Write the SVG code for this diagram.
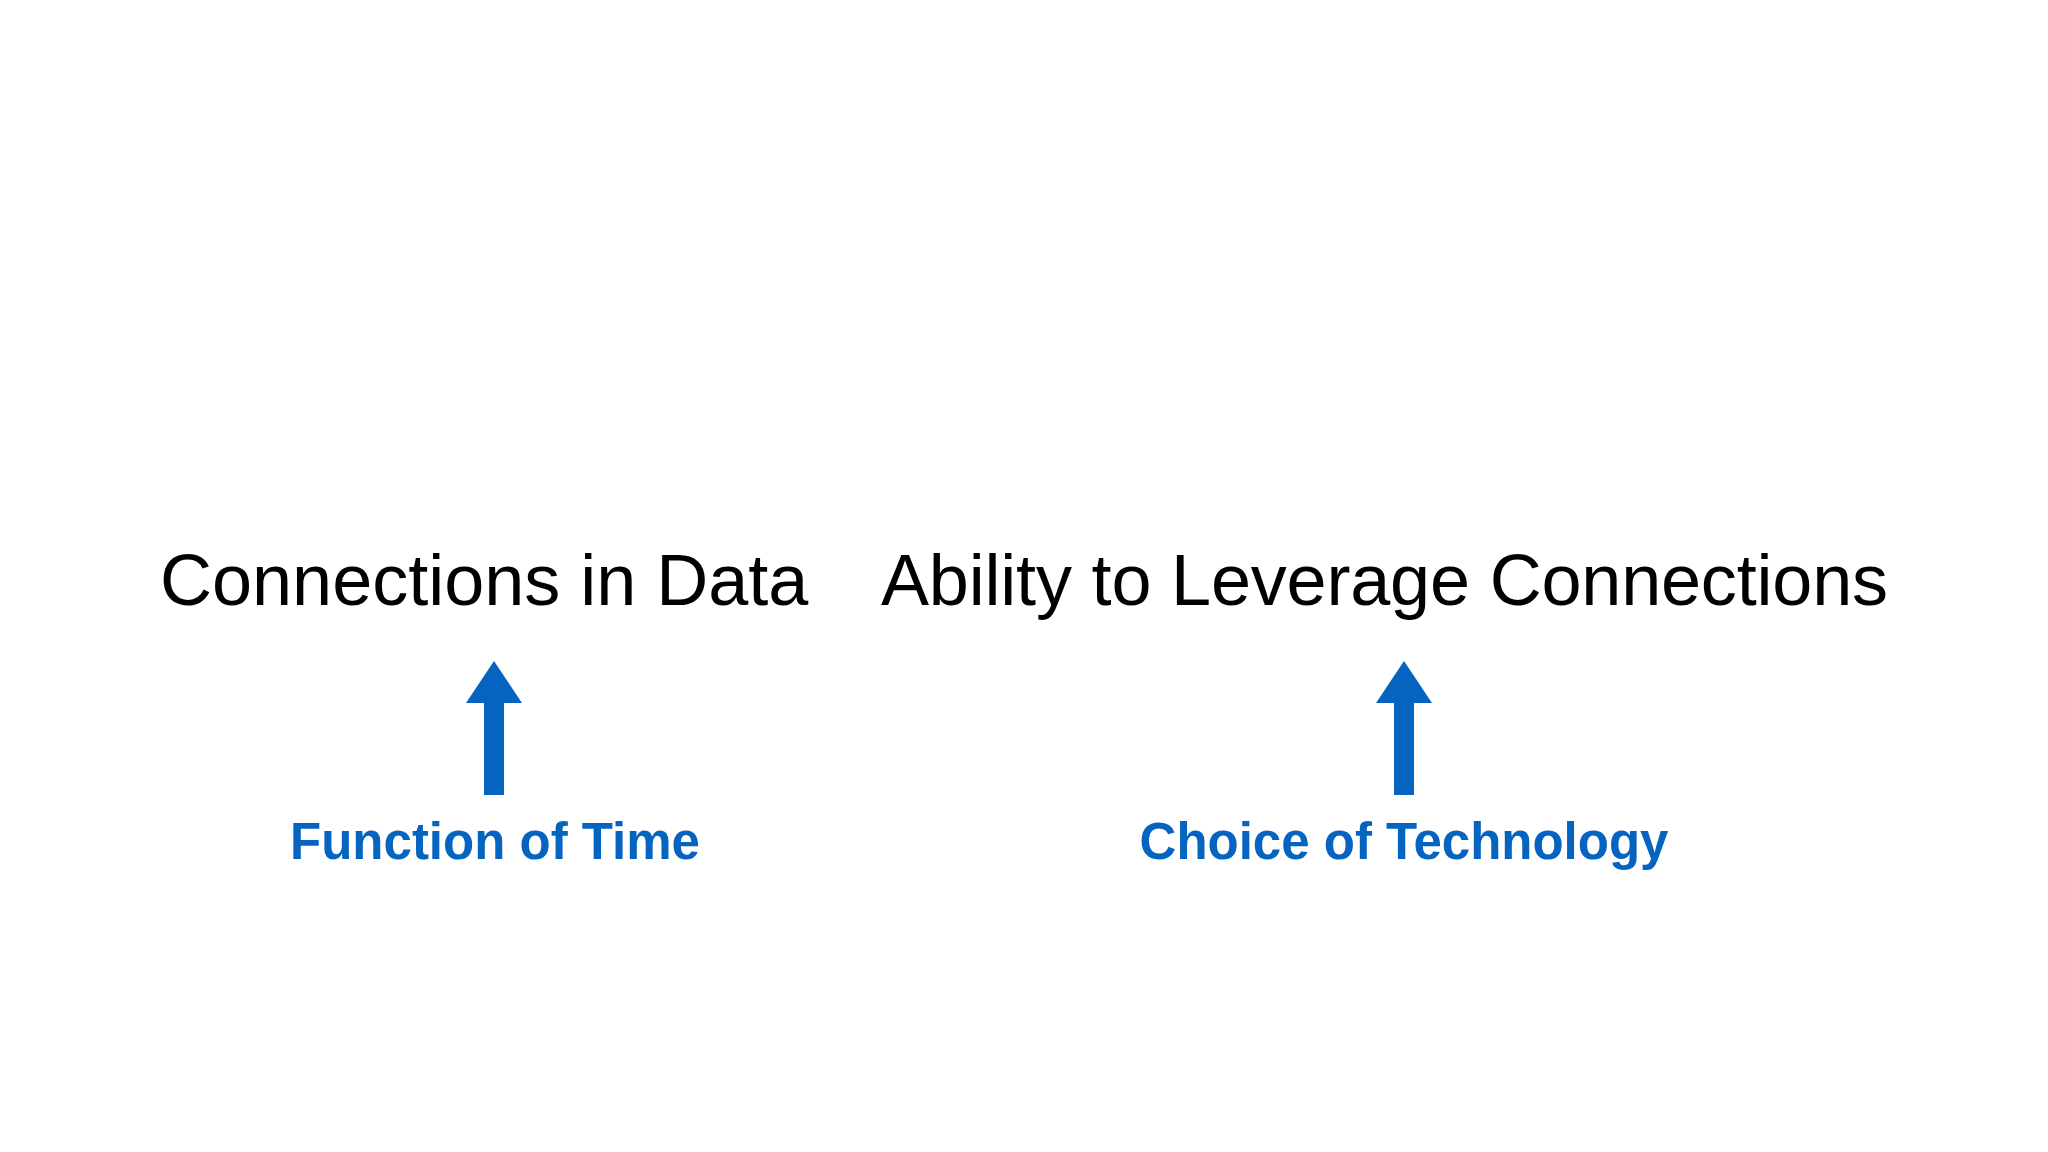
<svg xmlns="http://www.w3.org/2000/svg" width="2048" height="1152" viewBox="0 0 2048 1152">
  <style>
    .main { font-family: "Liberation Sans", Arial, Helvetica, sans-serif; font-size: 72px; fill: #000000; }
    .label { font-family: "Liberation Sans", Arial, Helvetica, sans-serif; font-size: 51px; font-weight: bold; fill: #0564C0; text-anchor: middle; }
    .arrow { fill: #0564C0; }
  </style>
  <defs>
    <path id="uparrow" d="M 0 0 L 28 42 L 10 42 L 10 134 L -10 134 L -10 42 L -28 42 Z"/>
  </defs>
  <rect width="2048" height="1152" fill="#ffffff"/>
  <g id="node-connections-in-data">
    <text class="main" x="160" y="605">Connections in Data</text>
  </g>
  <g id="node-ability">
    <text class="main" x="881" y="605" textLength="1007">Ability to Leverage Connections</text>
  </g>
  <g id="node-function-of-time">
    <text class="label" x="495" y="859">Function of Time</text>
  </g>
  <g id="node-choice-of-technology">
    <text class="label" x="1404" y="859">Choice of Technology</text>
  </g>
  <g id="connectors">
    <use href="#uparrow" class="arrow" x="494" y="661"/>
    <use href="#uparrow" class="arrow" x="1404" y="661"/>
  </g>
</svg>
